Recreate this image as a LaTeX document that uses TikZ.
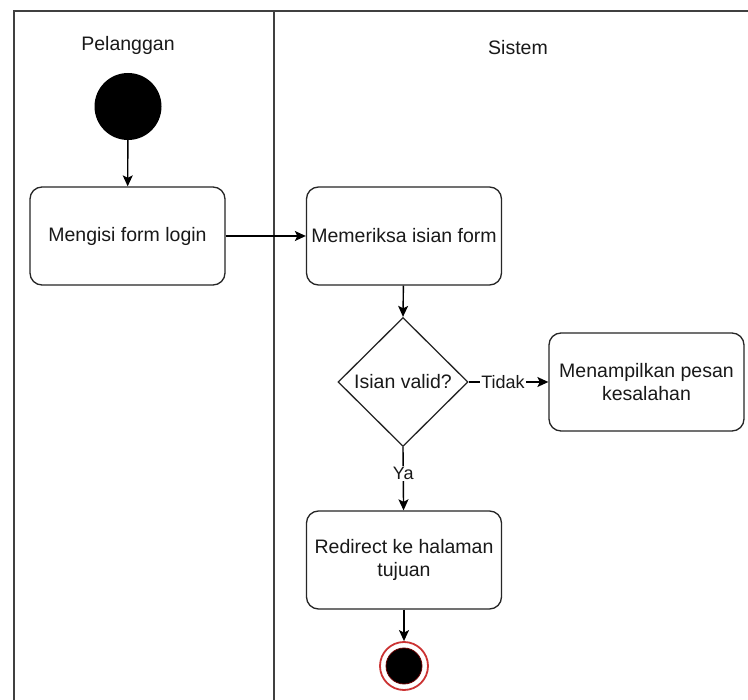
\documentclass[tikz,border=0pt]{standalone}
\usepackage{fontspec}
\setmainfont{Liberation Sans}
\usetikzlibrary{shapes.geometric,arrows.meta}

\begin{document}
\begin{tikzpicture}[x=1pt,y=-1pt,
  every node/.style={font=\fontsize{19.5}{22.4}\selectfont, text=black!90},
  lane/.style={draw=black!75, line width=1.5pt},
  action/.style={draw=black!85, line width=1.3pt, rounded corners=12pt,
    minimum width=195pt, minimum height=98pt, align=center, inner sep=2pt},
  decision/.style={draw=black!85, line width=1.3pt, diamond, aspect=1,
    minimum width=130pt, minimum height=129pt, inner sep=0pt},
  startnode/.style={circle, fill=black, minimum size=67pt, inner sep=0pt},
  flow/.style={draw=black, line width=1.4pt,
    -{Stealth[length=11pt,width=10pt,inset=2.5pt]}},
  guard/.style={font=\fontsize{18}{20}\selectfont, fill=white, inner sep=1pt}
]
% canvas
\useasboundingbox[fill=white] (0,0) rectangle (748,700);

% swimlanes
\draw[lane] (14,700) -- (14,11) -- (748,11);
\draw[lane] (274,11) -- (274,700);
\node (laneA) at (128,45) {Pelanggan};
\node (laneB) at (518,48) {Sistem};

% activity nodes
\node[startnode] (start) at (128,106.5) {};
\node[action] (login) at (127.5,236) {Mengisi form login};
\node[action] (check) at (404,236) {Memeriksa isian form};
\node[decision] (valid) at (403,382) {Isian valid?};
\node[action] (error) at (646.5,382) {Menampilkan pesan\\kesalahan};
\node[action] (redirect) at (404,560) {Redirect ke halaman\\tujuan};

% final node: red ring around a black disc
\node[circle, draw=red!75!black!80, line width=1.8pt, fill=white,
  minimum size=48pt, inner sep=0pt] (final) at (404,666) {};
\fill[black, draw=red!40!black, line width=0.8pt] (final.center) circle (18pt);

% control flow
\draw[flow] (start) -- (login);
\draw[flow] (login) -- (check);
\draw[flow] (check) -- (valid.north);
\draw[flow] (valid.east) -- node[guard, pos=0.43] {Tidak} (error.west);
\draw[flow] (valid.south) -- node[guard, pos=0.42] {Ya} (redirect);
\draw[flow] (redirect) -- (final);
\end{tikzpicture}
\end{document}
